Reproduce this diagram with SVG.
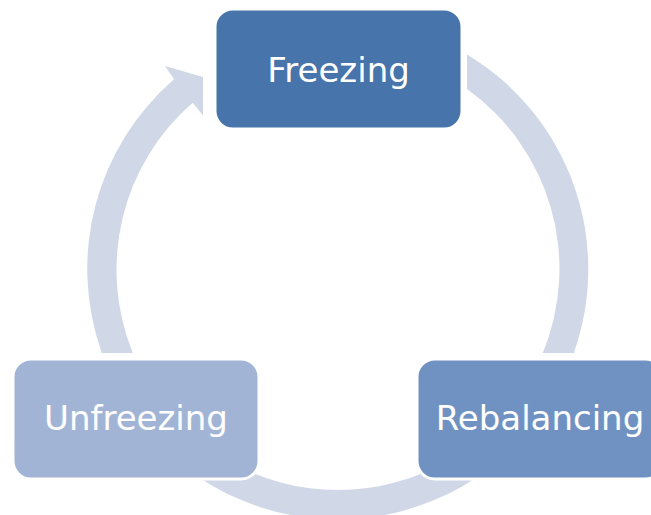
<svg xmlns="http://www.w3.org/2000/svg" width="651" height="515" viewBox="0 0 651 515">
  <style>
    .ring { fill: #D0D8E8; }
    .box { stroke: #FFFFFF; stroke-width: 3; }
    .label { font-family: "DejaVu Sans", Verdana, sans-serif; font-size: 34px; fill: #FFFFFF; text-anchor: middle; }
  </style>
  <rect width="651" height="515" fill="#FFFFFF"/>

  <!-- cycle ring segments: centre (337.8, 269), outer r 250.5, inner r 221 -->
  <g id="connectors">
    <!-- Unfreezing -> Freezing, with arrowhead -->
    <path class="ring" d="M 101.8 353 A 250.5 250.5 0 0 1 174 79.3 L 165 66 L 203 77 L 203 115.5 L 192.7 102.7 A 221 221 0 0 0 132.8 353 Z"/>
    <!-- Freezing -> Rebalancing -->
    <path class="ring" d="M 467 54.4 A 250.5 250.5 0 0 1 573.8 353 L 542.8 353 A 221 221 0 0 0 467 89.1 Z"/>
    <!-- Rebalancing -> Unfreezing (ends run under the boxes) -->
    <path class="ring" d="M 554.7 394.25 A 250.5 250.5 0 0 1 120.9 394.25 L 146.4 379.5 A 221 221 0 0 0 529.2 379.5 Z"/>
  </g>

  <g id="freezing">
    <rect class="box" x="215" y="9" width="247" height="120" rx="18" fill="#4774AA"/>
    <text class="label" x="338.5" y="82">Freezing</text>
  </g>

  <g id="rebalancing">
    <rect class="box" x="417" y="359" width="246" height="120" rx="18" fill="#7092C2"/>
    <text class="label" x="540" y="430">Rebalancing</text>
  </g>

  <g id="unfreezing">
    <rect class="box" x="13" y="359" width="246" height="120" rx="18" fill="#A2B4D5"/>
    <text class="label" x="136" y="430">Unfreezing</text>
  </g>
</svg>
